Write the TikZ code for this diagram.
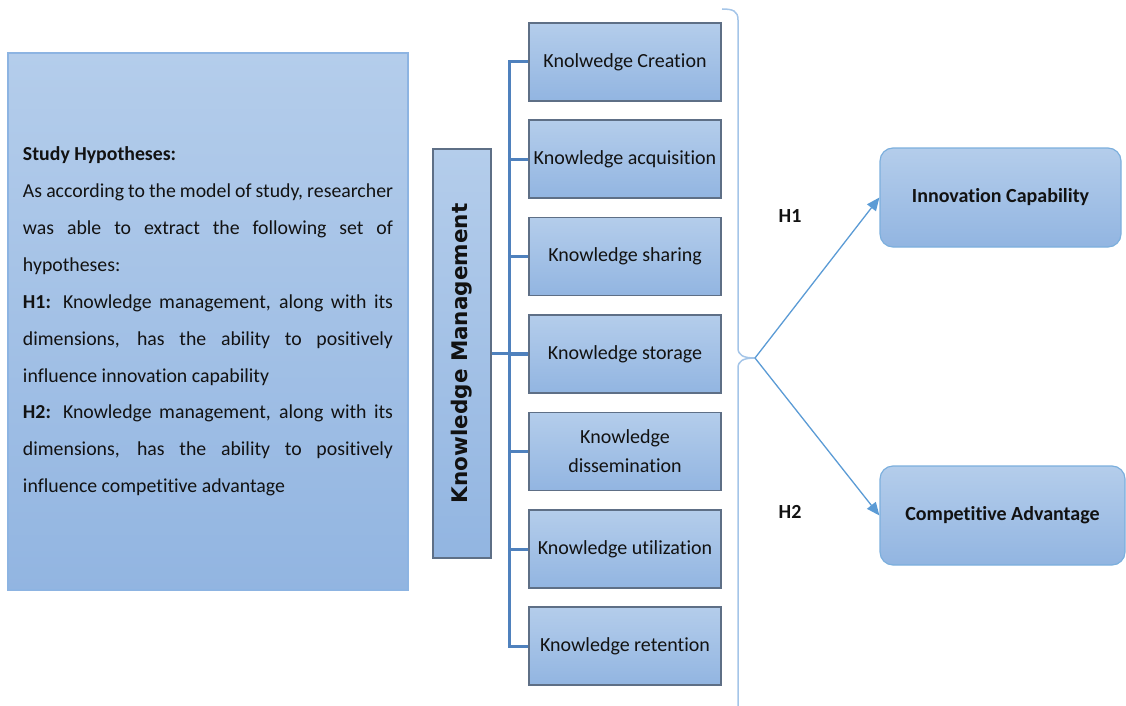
\documentclass[tikz,border=0pt]{standalone}
\usepackage{fontspec}
\setmainfont{Carlito}[Ligatures=CommonOff]
\newfontfamily\kmfont{DejaVu Sans}
\usetikzlibrary{arrows.meta}

\definecolor{boxtop}{HTML}{B4CDEB}
\definecolor{boxbot}{HTML}{92B5E1}
\definecolor{dimline}{HTML}{5E6F86}
\definecolor{hypline}{HTML}{8DB4E2}
\definecolor{branchcol}{HTML}{4F81BD}
\definecolor{bracecol}{HTML}{A4C5E8}
\definecolor{arrowcol}{HTML}{5B9BD5}
\definecolor{txt}{HTML}{121212}

\begin{document}
\begin{tikzpicture}[
      x=1pt, y=-1pt,
      every node/.style={text=txt, inner sep=0pt},
      dimbox/.style={draw=dimline, line width=1.2pt, top color=boxtop, bottom color=boxbot,
                     minimum width=192pt, minimum height=78pt, align=center,
                     font=\fontsize{20}{29}\selectfont},
      outbox/.style={draw=arrowcol!80, line width=1.2pt, rounded corners=13pt,
                     top color=boxtop, bottom color=boxbot, minimum height=99pt,
                     font=\fontsize{20}{24}\selectfont\bfseries},
      branch/.style={draw=branchcol, line width=3pt},
      hyparrow/.style={draw=arrowcol, line width=1.3pt,
                       -{Triangle[length=13pt, width=11pt]}}]
    \useasboundingbox (0,0) rectangle (1126,706);

    % hypotheses text box
    \node (hyp) at (208,321.5) [draw=hypline, line width=1.5pt,
        top color=boxtop, bottom color=boxbot,
        minimum width=400pt, minimum height=537pt, inner xsep=15pt,
        text width=370pt, align=justify,
        font=\fontsize{19.8}{36.9}\selectfont] {%
      \textbf{Study Hypotheses:}\par
      As according to the model of study, researcher\linebreak
      was able to extract the following set of\linebreak
      hypotheses:\par
      \textbf{H1:} Knowledge management, along with its\linebreak
      dimensions, has the ability to positively\linebreak
      influence innovation capability\par
      \textbf{H2:} Knowledge management, along with its\linebreak
      dimensions, has the ability to positively\linebreak
      influence competitive advantage};

    % main construct
    \node (km) at (462,353.5) [draw=dimline, line width=1.2pt,
        top color=boxtop, bottom color=boxbot,
        minimum width=58pt, minimum height=409pt] {};
    \node (kmlabel) at (km.center) [rotate=90,
        font=\kmfont\bfseries\fontsize{21.5}{24}\selectfont] {Knowledge Management};

    % dimensions
    \node (d1) at (625, 62)  [dimbox] {Knolwedge Creation};
    \node (d2) at (625,159)  [dimbox] {Knowledge acquisition};
    \node (d3) at (625,256.5)[dimbox] {Knowledge sharing};
    \node (d4) at (625,354)  [dimbox] {Knowledge storage};
    \node (d5) at (625,451.5)[dimbox] {Knowledge\\dissemination};
    \node (d6) at (625,549)  [dimbox] {Knowledge utilization};
    \node (d7) at (625,646)  [dimbox] {Knowledge retention};

    \draw[branch] (d1.west) -- ++(-19,0) |- (d7.west);
    \draw[branch] (d2.west) -- ++(-19,0);
    \draw[branch] (d3.west) -- ++(-19,0);
    \draw[branch] (d4.west) -- ++(-19,0);
    \draw[branch] (d5.west) -- ++(-19,0);
    \draw[branch] (d6.west) -- ++(-19,0);
    \draw[branch] (km.east) -- (km.east -| d4.west);

    % outcomes
    \node (ic) at (1000.5,197.5) [outbox, minimum width=241pt] {Innovation Capability};
    \node (ca) at (1002.5,515.5) [outbox, minimum width=245pt] {Competitive Advantage};

    % brace over the dimensions
    \coordinate (tip) at (755,358);
    \draw[bracecol, line width=1.5pt]
      (722,9) .. controls (733,9) and (738,11) .. (738,20) -- (738,348)
      .. controls (738,355) and (743,358) .. (tip)
      .. controls (743,358) and (738,361) .. (738,368) -- (738,706);

    \draw[hyparrow] (tip) -- (ic.west);
    \draw[hyparrow] (tip) -- (ca.west);

    \node (h1) at (790,216) [font=\fontsize{20}{24}\selectfont\bfseries] {H1};
    \node (h2) at (790,512) [font=\fontsize{20}{24}\selectfont\bfseries] {H2};
  \end{tikzpicture}
\end{document}
